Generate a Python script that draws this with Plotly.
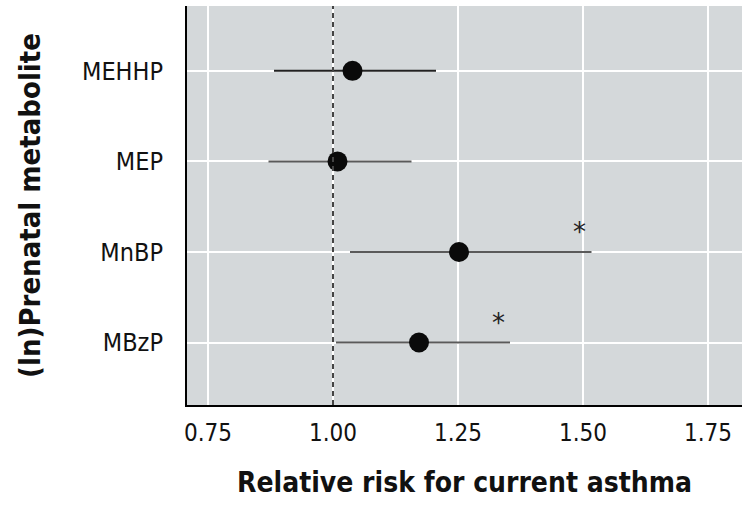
import plotly.graph_objects as go

metabolites = ["MEHHP", "MEP", "MnBP", "MBzP"]
rr = [1.039, 1.009, 1.252, 1.172]
ci_low = [0.882, 0.871, 1.034, 1.006]
ci_high = [1.206, 1.157, 1.517, 1.354]
significant = [False, False, True, True]
line_colors = ["#222222", "#5a5a5a", "#5a5a5a", "#5a5a5a"]

x_ticks = [0.75, 1.00, 1.25, 1.50, 1.75]
x_ticktext = ["0.75", "1.00", "1.25", "1.50", "1.75"]

COND = "DejaVu Sans Condensed, Liberation Sans Narrow, Arial Narrow, sans-serif"

fig = go.Figure()
for i, m in enumerate(metabolites):
    fig.add_trace(go.Scatter(
        x=[rr[i]], y=[m], mode="markers",
        marker=dict(color="#0a0a0a", size=20, line=dict(width=0)),
        error_x=dict(type="data", symmetric=False,
                     array=[ci_high[i] - rr[i]], arrayminus=[rr[i] - ci_low[i]],
                     color=line_colors[i], thickness=2, width=0),
        showlegend=False, hoverinfo="x+y",
    ))

annotations = []
for i, m in enumerate(metabolites):
    if significant[i]:
        annotations.append(dict(x=ci_high[i], y=m, xref="x", yref="y", text="*",
                                showarrow=False, xshift=-12, yshift=20,
                                font=dict(family="DejaVu Sans, sans-serif", size=26, color="#222")))

fig.add_shape(type="line", xref="x", yref="paper", x0=1.0, x1=1.0, y0=0, y1=1,
              line=dict(color="#444444", width=2, dash="5px,4px"), layer="above")

fig.update_layout(
    width=742, height=505,
    margin=dict(l=187, r=0, t=6, b=100),
    paper_bgcolor="white", plot_bgcolor="#d4d8da",
    annotations=annotations,
    xaxis=dict(
        range=[0.708, 1.818], tickvals=x_ticks, ticktext=x_ticktext,
        showgrid=True, gridcolor="white", gridwidth=2, zeroline=False,
        showline=True, linecolor="black", linewidth=2, mirror=False,
        ticks="", ticklabelstandoff=5,
        tickfont=dict(family=COND, size=24, color="#111"),
        title=dict(text="<b>Relative risk for current asthma</b>",
                   font=dict(family=COND, size=28, color="#111"), standoff=27),
    ),
    yaxis=dict(
        type="category", categoryorder="array", categoryarray=metabolites,
        range=[3.69, -0.716],
        showgrid=True, gridcolor="white", gridwidth=2, zeroline=False,
        showline=True, linecolor="black", linewidth=2, mirror=False,
        ticks="", ticklabelstandoff=17,
        tickfont=dict(family=COND, size=25, color="#111"),
        title=dict(text="<b>(ln)Prenatal metabolite</b>",
                   font=dict(family=COND, size=29, color="#111"), standoff=33),
    ),
)

fig.write_html("out.html", config={"displayModeBar": False},
               post_script="document.body.style.margin='0';")
